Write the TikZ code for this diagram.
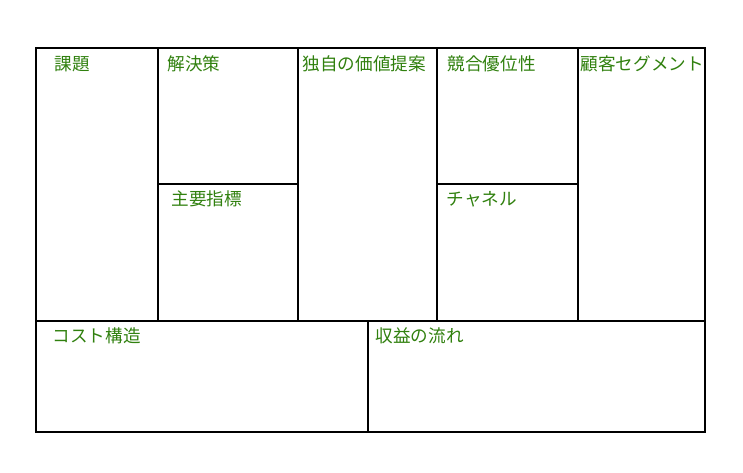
\documentclass[tikz,border=0pt]{standalone}
\usepackage{fontspec}
\usepackage{xcolor}
\usepackage{tikz}
\usetikzlibrary{positioning, calc}
\newfontfamily\cjk{Noto Sans CJK JP}
\definecolor{labelgreen}{RGB}{48,128,14}

\begin{document}
\begin{tikzpicture}[x=1pt, y=-1pt, line width=1.4pt,
    lbl/.style={anchor=base west, inner sep=0pt, text=labelgreen,
        font=\cjk\fontsize{17.6}{17.6}\selectfont}]
\useasboundingbox (0,0) rectangle (743,472);

% Outer frame
\draw (36,48) rectangle (705,432);

% Upper columns
\foreach \x in {158, 298, 437, 578} {
    \draw (\x,48) -- (\x,321);
}
\draw (36,321) -- (705,321);

% Split cells
\draw (158,184) -- (298,184);
\draw (437,184) -- (578,184);

% Bottom split
\draw (368,321) -- (368,432);

% Labels
\foreach \n/\x/\y/\t in {problem/54/70.5/課題, solution/167/70.5/解決策,
    uvp/302/70.5/独自の価値提案, advantage/447/70.5/競合優位性,
    segment/580/70.5/顧客セグメント, metrics/171/205/主要指標,
    channel/446/205/チャネル, cost/52/342/コスト構造,
    revenue/375/342/収益の流れ} {
    \node[lbl] (lbl-\n) at (\x,\y) {\t};
}
\end{tikzpicture}
\end{document}
